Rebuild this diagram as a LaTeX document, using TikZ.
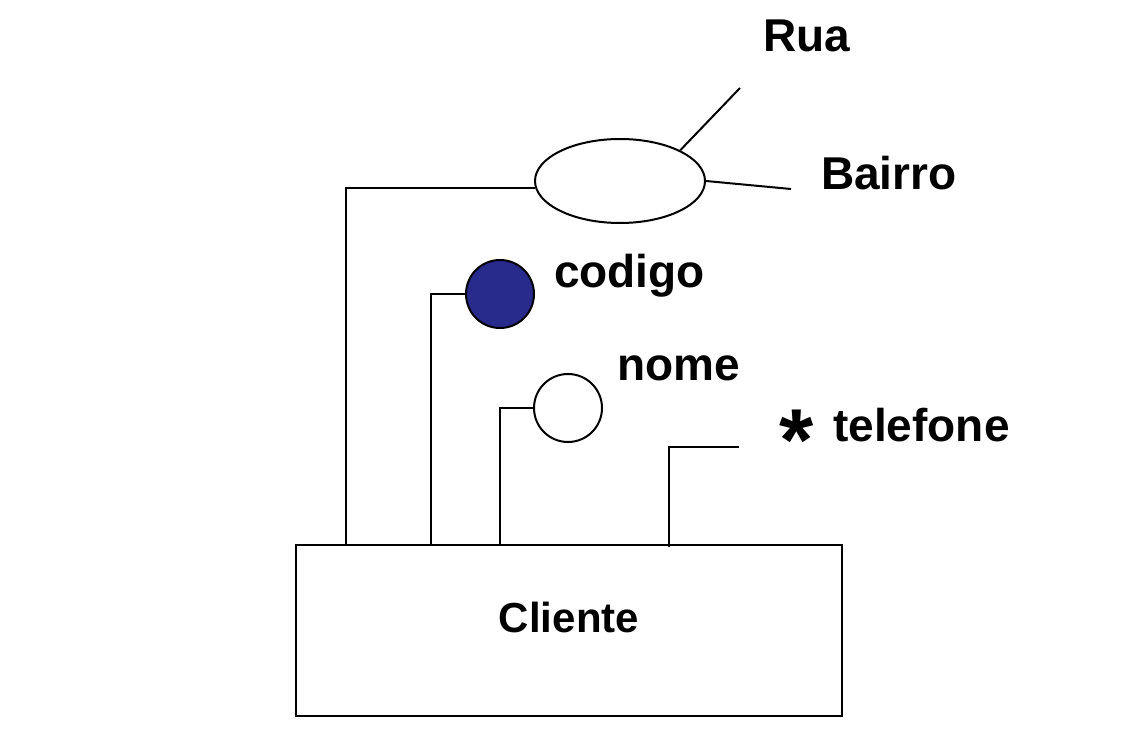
\documentclass[tikz,border=0pt]{standalone}
\usepackage{fontspec}
\setmainfont{Liberation Sans}
\usetikzlibrary{positioning,shapes.geometric}
\definecolor{chaveazul}{RGB}{40,42,140}

\begin{document}
\begin{tikzpicture}[
    x=1pt, y=-1pt,
    line width=2pt,
    entidade/.style={draw, minimum width=546pt, minimum height=171pt, font=\bfseries\fontsize{42}{46}\selectfont},
    composto/.style={draw, ellipse, minimum width=170pt, minimum height=84pt, inner sep=0pt},
    atrib/.style={draw, circle, minimum size=68pt, inner sep=0pt},
    rotulo/.style={anchor=base west, inner sep=0pt, font=\bfseries\fontsize{46}{50}\selectfont},
]
    \useasboundingbox (0,0) rectangle (1128,754);

    \node[entidade] (cliente) at (569,630.5) {\raisebox{26pt}{Cliente}};
    \node[composto] (endereco) at (620,181) {};
    \node[atrib, fill=chaveazul] (codigo) at (500,294) {};
    \node[atrib] (nome) at (568,408) {};

    \coordinate (pontarua) at (740,88);
    \coordinate (pontabairro) at (791,189);
    \coordinate (pontatel) at (739,447);

    \node[rotulo] (lblrua) at (762,52) {Rua};
    \node[rotulo] (lblbairro) at (820,190) {Bairro};
    \node[rotulo] (lblcodigo) at (553,288) {codigo};
    \node[rotulo] (lblnome) at (616,381) {nome};
    \node[rotulo] (lbltel) at (778,441) {\raisebox{-29pt}{\fontsize{88}{88}\selectfont *}\hspace{20pt}telefone};

    \draw (endereco.185) -| ([xshift=51pt]cliente.north west);
    \draw (endereco.27) -- (pontarua);
    \draw (endereco.east) -- (pontabairro);
    \draw (codigo.west) -| ([xshift=136pt]cliente.north west);
    \draw (nome.west) -| ([xshift=205pt]cliente.north west);
    \draw (pontatel) -| ([xshift=374pt, yshift=-3pt]cliente.north west);

\end{tikzpicture}
\end{document}
